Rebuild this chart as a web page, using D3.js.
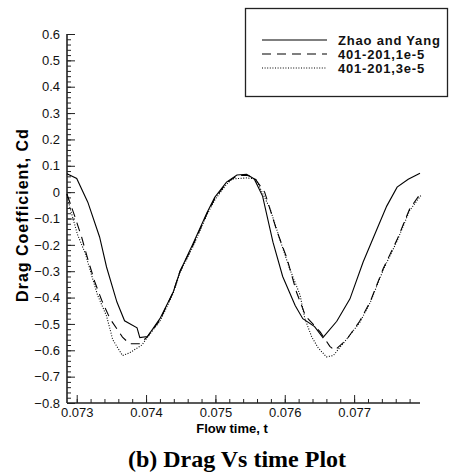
<!DOCTYPE html>
<html>
<head>
<meta charset="utf-8">
<script src="https://cdn.jsdelivr.net/npm/d3@7"></script>
<style>
  html, body { margin: 0; padding: 0; background: #fff; }
  svg { display: block; }
  .tick text { font-family: "Liberation Sans", Arial, sans-serif; font-size: 13px; fill: #111; }
</style>
</head>
<body>
<svg id="chart" width="452" height="472"></svg>
<script>
// Drag coefficient history, [flow time, Cd]
const zhaoYang = [
  [0.07286, 0.070], [0.07300, 0.052], [0.07316, -0.038], [0.07333, -0.170],
  [0.07343, -0.284], [0.07358, -0.417], [0.07369, -0.488], [0.07387, -0.515],
  [0.07391, -0.552], [0.07402, -0.548], [0.07420, -0.480], [0.07439, -0.380],
  [0.07449, -0.300], [0.07467, -0.200], [0.07488, -0.077], [0.07499, -0.020],
  [0.07516, 0.038], [0.07531, 0.065], [0.07545, 0.068], [0.07556, 0.050],
  [0.07568, -0.015], [0.07583, -0.190], [0.07597, -0.320], [0.07615, -0.430],
  [0.07626, -0.480], [0.07643, -0.510], [0.07655, -0.552], [0.07675, -0.490],
  [0.07694, -0.405], [0.07713, -0.265], [0.07733, -0.140], [0.07747, -0.053],
  [0.07762, 0.019], [0.07778, 0.049], [0.07795, 0.072]
];
const run1e5 = [
  [0.07286, -0.008], [0.07297, -0.090], [0.07307, -0.170], [0.07316, -0.254],
  [0.07326, -0.340], [0.07336, -0.410], [0.07348, -0.480], [0.07366, -0.550],
  [0.07376, -0.575], [0.07391, -0.575], [0.07402, -0.548], [0.07420, -0.485],
  [0.07439, -0.380], [0.07449, -0.300], [0.07467, -0.205], [0.07488, -0.080],
  [0.07499, -0.025], [0.07516, 0.035], [0.07531, 0.062], [0.07545, 0.064],
  [0.07556, 0.055], [0.07571, 0.000], [0.07589, -0.150], [0.07603, -0.250],
  [0.07617, -0.380], [0.07630, -0.470], [0.07651, -0.530], [0.07665, -0.585],
  [0.07672, -0.600], [0.07689, -0.560], [0.07708, -0.490], [0.07723, -0.417],
  [0.07742, -0.290], [0.07762, -0.180], [0.07780, -0.064], [0.07795, -0.008]
];
const run3e5 = [
  [0.07286, -0.008], [0.07290, -0.057], [0.07301, -0.160], [0.07312, -0.230],
  [0.07322, -0.320], [0.07330, -0.390], [0.07343, -0.470], [0.07352, -0.560],
  [0.07366, -0.620], [0.07376, -0.610], [0.07394, -0.580], [0.07402, -0.550],
  [0.07420, -0.490], [0.07439, -0.385], [0.07449, -0.305], [0.07467, -0.210],
  [0.07488, -0.085], [0.07499, -0.030], [0.07516, 0.030], [0.07524, 0.050],
  [0.07545, 0.054], [0.07558, 0.050], [0.07579, -0.064], [0.07593, -0.180],
  [0.07607, -0.290], [0.07622, -0.390], [0.07629, -0.480], [0.07639, -0.550],
  [0.07648, -0.590], [0.07660, -0.625], [0.07670, -0.620], [0.07684, -0.575],
  [0.07708, -0.495], [0.07723, -0.420], [0.07742, -0.295], [0.07762, -0.185],
  [0.07780, -0.070], [0.07797, -0.010]
];

const seriesNames = ["Zhao and Yang", "401-201,1e-5", "401-201,3e-5"];
const xMajorTicks = [0.073, 0.074, 0.075, 0.076, 0.077];
const yMajorTicks = [0.6, 0.5, 0.4, 0.3, 0.2, 0.1, 0, -0.1, -0.2, -0.3, -0.4, -0.5, -0.6, -0.7, -0.8];

const svg = d3.select("#chart");

const x = d3.scaleLinear().domain([0.07286, 0.07795]).range([67, 420]);
const y = d3.scaleLinear().domain([-0.8, 0.6]).range([403, 34]);

const xMinor = d3.range(0, 25).map(i => +(0.0730 + i * 0.0002).toFixed(4));
const yMinor = d3.range(0, 71).map(i => +(-0.8 + i * 0.02).toFixed(2));

// x axis: minor ticks, then labelled major ticks (inward)
svg.append("g")
  .attr("transform", "translate(0,403)")
  .call(d3.axisBottom(x).tickValues(xMinor).tickSize(-4).tickFormat(""))
  .call(g => g.select(".domain").remove())
  .selectAll("line").attr("stroke", "#222");
svg.append("g")
  .attr("transform", "translate(0,403)")
  .call(d3.axisBottom(x).tickValues(xMajorTicks).tickSize(-8).tickPadding(5)
    .tickFormat(d3.format(".3f")))
  .call(g => g.select(".domain").attr("d", "M67,0H420").attr("stroke", "#222").attr("stroke-width", 1.6))
  .selectAll("line").attr("stroke", "#222");

// y axis
svg.append("g")
  .attr("transform", "translate(67,0)")
  .call(d3.axisLeft(y).tickValues(yMinor).tickSize(-4).tickFormat(""))
  .call(g => g.select(".domain").remove())
  .selectAll("line").attr("stroke", "#222");
svg.append("g")
  .attr("transform", "translate(67,0)")
  .call(d3.axisLeft(y).tickValues(yMajorTicks).tickSize(-8).tickPadding(7)
    .tickFormat(d => d === 0 ? "0" : d3.format(".1f")(d)))
  .call(g => g.select(".domain").attr("d", "M0,34V403").attr("stroke", "#222").attr("stroke-width", 1.6))
  .selectAll("line").attr("stroke", "#222");

// curves
const line = d3.line().x(d => x(d[0])).y(d => y(d[1]));
const styles = [
  { data: zhaoYang, dash: null, width: 1.1 },
  { data: run1e5, dash: "9,6", width: 1.1 },
  { data: run3e5, dash: "1,1.6", width: 1.1 }
];
styles.forEach(s => {
  svg.append("path")
    .datum(s.data)
    .attr("d", line)
    .attr("fill", "none")
    .attr("stroke", "#000")
    .attr("stroke-width", s.width)
    .attr("stroke-dasharray", s.dash);
});

// legend
const legend = svg.append("g");
legend.append("rect")
  .attr("x", 245.5).attr("y", 8.5).attr("width", 202).attr("height", 88)
  .attr("fill", "#fff").attr("stroke", "#222").attr("stroke-width", 1.3);
const rowY = [40, 54, 68];
styles.forEach((s, i) => {
  legend.append("line")
    .attr("x1", 262).attr("x2", 327).attr("y1", rowY[i]).attr("y2", rowY[i])
    .attr("stroke", "#000").attr("stroke-width", 1.1)
    .attr("stroke-dasharray", s.dash);
  legend.append("text")
    .attr("x", 338).attr("y", rowY[i] + 4.5)
    .attr("font-family", "Liberation Sans, Arial, sans-serif")
    .attr("font-size", 13).attr("font-weight", "bold")
    .attr("letter-spacing", 0.8)
    .attr("fill", "#111")
    .text(seriesNames[i]);
});

// axis titles and caption
svg.append("text")
  .attr("x", 232).attr("y", 433)
  .attr("text-anchor", "middle")
  .attr("font-family", "Liberation Sans, Arial, sans-serif")
  .attr("font-size", 13).attr("font-weight", "bold")
  .text("Flow time, t");

svg.append("text")
  .attr("transform", "translate(28,215) rotate(-90)")
  .attr("text-anchor", "middle")
  .attr("font-family", "Liberation Sans, Arial, sans-serif")
  .attr("font-size", 16).attr("font-weight", "bold")
  .attr("letter-spacing", 1)
  .text("Drag Coefficient, Cd");

svg.append("text")
  .attr("x", 237).attr("y", 467)
  .attr("text-anchor", "middle")
  .attr("font-family", "Liberation Serif, Times New Roman, serif")
  .attr("font-size", 24).attr("font-weight", "bold")
  .text("(b) Drag Vs time Plot");
</script>
</body>
</html>
